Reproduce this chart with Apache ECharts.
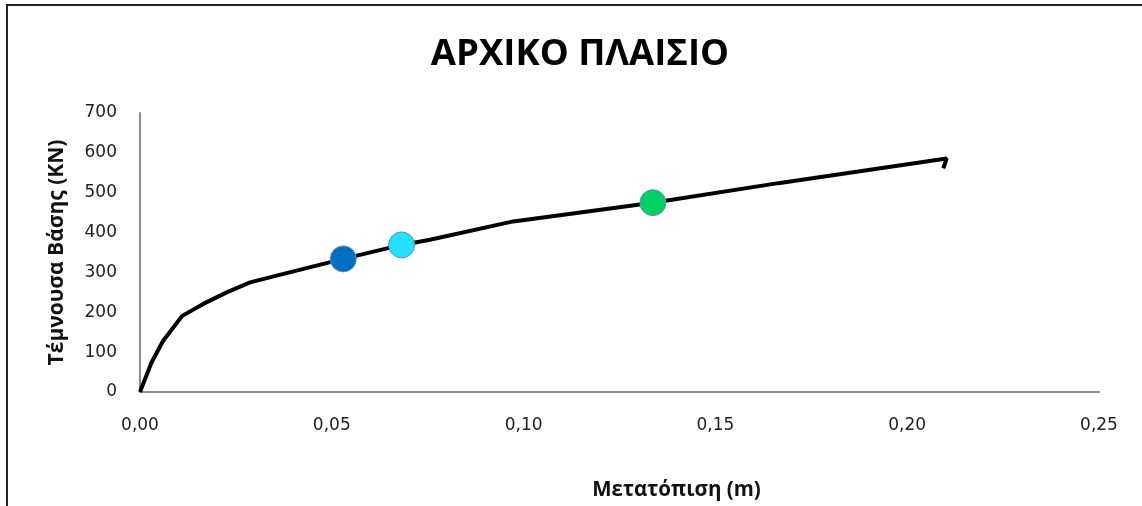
<!DOCTYPE html>
<html>
<head>
<meta charset="utf-8">
<script src="https://cdn.jsdelivr.net/npm/echarts@6/dist/echarts.min.js"></script>
<style>html,body{margin:0;padding:0;background:#fff;overflow:hidden}#c{width:1142px;height:506px}</style>
</head>
<body>
<div id="c"></div>
<script>
const titleText = 'ΑΡΧΙΚΟ ΠΛΑΙΣΙΟ';
const xName = 'Μετατόπιση (m)';
const yName = 'Τέμνουσα Βάσης (KN)';
const curveX = [0, 0.003, 0.006, 0.011, 0.0165, 0.0226, 0.0287, 0.0356, 0.0426, 0.053, 0.0682, 0.0756, 0.0973, 0.1337, 0.1664, 0.2103, 0.2094];
const curveY = [0, 74, 128, 191, 221, 250, 275, 292, 309, 334, 369, 382, 428, 475, 524, 586, 561];
const pointX = [0.053, 0.0682, 0.1337];
const pointY = [334, 369, 475];
const pointColors = ['#0070C0', '#22E0FF', '#00D060'];
const xTicks = [0, 0.05, 0.10, 0.15, 0.20, 0.25];
const yTicks = [0, 100, 200, 300, 400, 500, 600, 700];

const chart = echarts.init(document.getElementById('c'));
const lbl = {fontFamily: 'DejaVu Sans', fontSize: 17, color: '#222'};
chart.setOption({
  animation: false,
  backgroundColor: '#fff',
  title: {text: titleText, left: 575, top: 31, textAlign: 'center',
    textStyle: {fontFamily: 'Open Sans', fontWeight: 'bold', fontSize: 36.5, color: '#000'}},
  graphic: [{type: 'rect', shape: {x: 7, y: 5, width: 1300, height: 700},
    style: {fill: 'none', stroke: '#222', lineWidth: 2}, silent: true}],
  grid: {left: 140, width: 959, top: 113, height: 279, containLabel: false},
  xAxis: {type: 'value', min: xTicks[0], max: xTicks[xTicks.length - 1], interval: 0.05,
    name: xName, nameLocation: 'middle', nameGap: 88,
    nameTextStyle: {fontFamily: 'Open Sans', fontWeight: 'bold', fontSize: 20.5, color: '#111', padding: [0, 0, 0, 114]},
    axisLine: {show: true, lineStyle: {color: '#8c8c8c', width: 2}},
    axisTick: {show: false}, splitLine: {show: false},
    axisLabel: Object.assign({margin: 25, formatter: v => v.toFixed(2).replace('.', ',')}, lbl)},
  yAxis: {type: 'value', min: yTicks[0], max: yTicks[yTicks.length - 1], interval: 100,
    name: yName, nameLocation: 'middle', nameGap: 72, nameRotate: 90,
    nameTextStyle: {fontFamily: 'Open Sans', fontWeight: 'bold', fontSize: 21, color: '#111'},
    axisLine: {show: true, lineStyle: {color: '#8c8c8c', width: 2}},
    axisTick: {show: false}, splitLine: {show: false},
    axisLabel: Object.assign({margin: 23}, lbl)},
  series: [
    {type: 'line', data: curveX.map((x, i) => [x, curveY[i]]), showSymbol: false,
      lineStyle: {color: '#000', width: 4}, z: 2},
    {type: 'scatter', data: pointX.map((x, i) => ({value: [x, pointY[i]], itemStyle: {color: pointColors[i]}})),
      symbolSize: 26, itemStyle: {borderColor: '#5B8FC8', borderWidth: 1, opacity: 1}, z: 3}
  ]
});
</script>
</body>
</html>
